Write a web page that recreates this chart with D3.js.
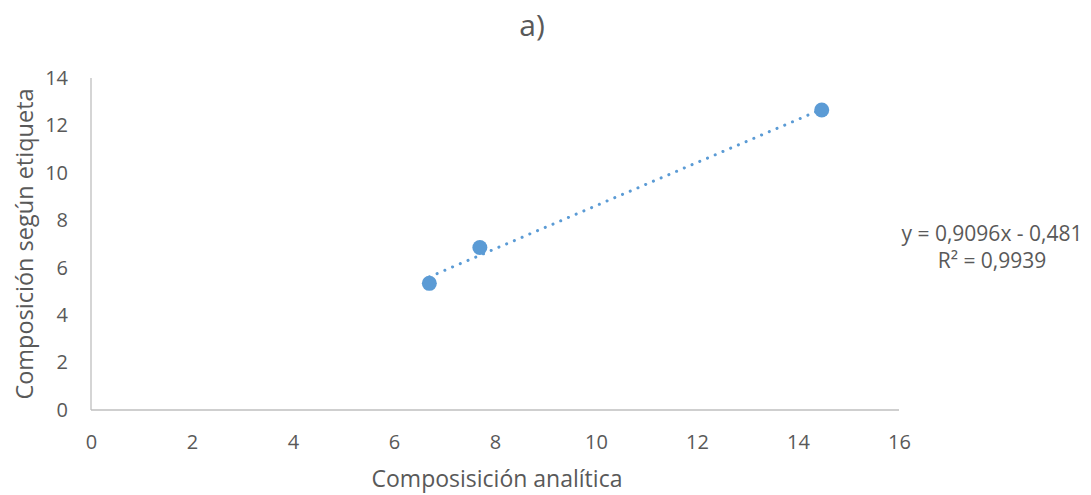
<!DOCTYPE html>
<html><head><meta charset="utf-8">
<script src="https://cdn.jsdelivr.net/npm/d3@7"></script>
<style>body{margin:0;background:#fff}svg{display:block}text{font-family:"Open Sans","Liberation Sans",sans-serif;fill:#595959}</style>
</head><body><svg id="c" width="1091" height="495"></svg>
<script>
const xValues = [6.70, 7.70, 14.47];
const yValues = [5.34, 6.85, 12.65];
const xTicks = [0, 2, 4, 6, 8, 10, 12, 14, 16];
const yTicks = [0, 2, 4, 6, 8, 10, 12, 14];
const slope = 0.9096, intercept = -0.481;
const title = "a)";
const xLabel = "Composisición analítica";
const yLabel = "Composición según etiqueta";
const eqLines = ["y = 0,9096x - 0,481", "R² = 0,9939"];

const svg = d3.select("#c");
const x = d3.scaleLinear().domain([0, 16]).range([91, 899]);
const y = d3.scaleLinear().domain([0, 14]).range([410, 78]);
const col = "#5B9BD5";

svg.append("text").attr("x", 532).attr("y", 36).attr("text-anchor", "middle")
  .style("font-size", "30px").text(title);

const xa = svg.append("g").attr("transform", "translate(0,410)")
  .call(d3.axisBottom(x).tickValues(xTicks).tickSize(0).tickPadding(22));
const ya = svg.append("g").attr("transform", "translate(91,0)")
  .call(d3.axisLeft(y).tickValues(yTicks).tickSize(0).tickPadding(23));
[xa, ya].forEach(a => {
  a.select(".domain").attr("stroke", "#BFBFBF").attr("stroke-width", 1.3);
  a.selectAll("text").style("font-size", "20px").style("fill", "#595959").attr("font-family", null);
});
xa.selectAll(".tick text").attr("dy", null).attr("y", 39);
ya.select(".domain").attr("d", "M0," + y(14) + "V" + y(0));
xa.select(".domain").attr("d", "M" + x(0) + ",0H" + x(16));

const x0 = d3.min(xValues), x1 = d3.max(xValues);
svg.append("line").attr("x1", x(x0)).attr("y1", y(slope * x0 + intercept))
  .attr("x2", x(x1)).attr("y2", y(slope * x1 + intercept))
  .attr("stroke", col).attr("stroke-width", 3).attr("stroke-linecap", "round")
  .attr("stroke-dasharray", "0.1 8.3");

svg.selectAll("circle.pt").data(xValues).join("circle").attr("class", "pt")
  .attr("cx", (d) => x(d)).attr("cy", (d, i) => y(yValues[i])).attr("r", 7.5).attr("fill", col);

svg.append("text").attr("x", 497).attr("y", 487).attr("text-anchor", "middle")
  .style("font-size", "23px").text(xLabel);
svg.append("text").attr("transform", "translate(33,244) rotate(-90)").attr("text-anchor", "middle")
  .style("font-size", "23.5px").text(yLabel);

eqLines.forEach((t, i) => svg.append("text").attr("x", 992).attr("y", 241 + i * 27)
  .attr("text-anchor", "middle").style("font-size", "21px").text(t));
</script></body></html>
